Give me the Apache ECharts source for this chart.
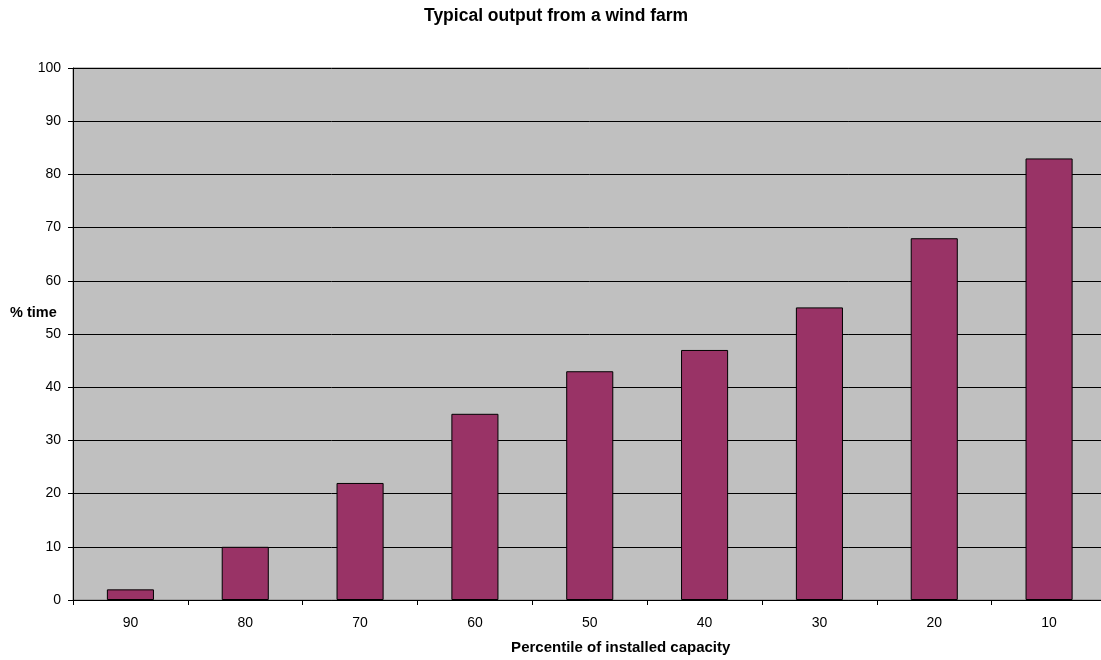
<!DOCTYPE html>
<html>
<head>
<meta charset="utf-8">
<script src="https://cdn.jsdelivr.net/npm/echarts@6/dist/echarts.min.js"></script>
<style>
  html, body { margin: 0; padding: 0; background: #ffffff; overflow: hidden; }
  /* the plot runs a few pixels past the right edge of the window */
  #chart { width: 1107px; height: 660px; }
</style>
</head>
<body>
<div id="chart"></div>
<script>
// Percentile of installed capacity (categories) and share of time spent at or above it
const categories = ['90', '80', '70', '60', '50', '40', '30', '20', '10'];
const timeShare = [2, 10, 22, 35, 43, 47, 55, 68, 83];
const yTicks = { min: 0, max: 100, interval: 10 };

const FONT = '"Liberation Sans", Arial, sans-serif';

const chart = echarts.init(document.getElementById('chart'), null, { renderer: 'canvas' });

chart.setOption({
  backgroundColor: '#ffffff',
  animation: false,
  title: {
    text: 'Typical output from a wind farm',
    left: 419,
    top: 2,
    textStyle: { fontFamily: FONT, fontSize: 17.5, fontWeight: 'bold', color: '#000000' }
  },
  grid: {
    left: 73,
    right: 0.5,
    top: 68,
    bottom: 60,
    outerBoundsMode: 'none',
    containLabel: false,
    show: true,
    backgroundColor: '#c0c0c0',
    borderColor: '#808080',
    borderWidth: 1
  },
  graphic: [{
    type: 'text',
    left: 10,
    top: 305,
    style: {
      text: '% time',
      fontFamily: FONT,
      fontSize: 14.5,
      fontWeight: 'bold',
      fill: '#000000'
    }
  }],
  xAxis: {
    type: 'category',
    data: categories,
    name: 'Percentile of installed capacity',
    nameLocation: 'middle',
    nameGap: 40,
    nameTextStyle: {
      fontFamily: FONT, fontSize: 15, fontWeight: 'bold', color: '#000000',
      padding: [0, 0, 0, 62]
    },
    axisLine: { lineStyle: { color: '#000000', width: 1 } },
    axisTick: { show: true, alignWithLabel: false, length: 5, lineStyle: { color: '#000000' } },
    axisLabel: { fontFamily: FONT, fontSize: 14, color: '#000000', margin: 16 },
    splitLine: { show: false }
  },
  yAxis: {
    type: 'value',
    min: yTicks.min,
    max: yTicks.max,
    interval: yTicks.interval,
    axisLine: { show: true, lineStyle: { color: '#000000', width: 1 } },
    axisTick: { show: true, length: 5, lineStyle: { color: '#000000' } },
    axisLabel: { fontFamily: FONT, fontSize: 14, color: '#000000', margin: 12 },
    splitLine: { show: true, lineStyle: { color: '#000000', width: 1 } }
  },
  series: [{
    type: 'bar',
    data: timeShare,
    barWidth: '41%',
    itemStyle: { color: '#993366', borderColor: '#000000', borderWidth: 1 }
  }]
});
</script>
</body>
</html>
